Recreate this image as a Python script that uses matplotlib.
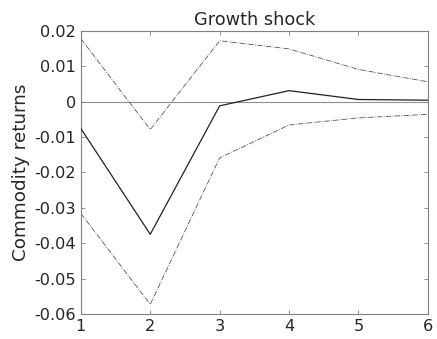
import matplotlib
matplotlib.use('Agg')
import matplotlib.pyplot as plt

# impulse response of commodity returns to a growth shock, with bands
horizon = [1, 2, 3, 4, 5, 6]
irf_mid = [-0.0076, -0.0375, -0.0012, 0.0031, 0.0006, 0.0004]
irf_upper = [0.0178, -0.0079, 0.0172, 0.0149, 0.0091, 0.0056]
irf_lower = [-0.0316, -0.0573, -0.0159, -0.0066, -0.0046, -0.0036]

yticks = [0.02, 0.01, 0, -0.01, -0.02, -0.03, -0.04, -0.05, -0.06]
ytick_labels = ['0.02', '0.01', '0', '-0.01', '-0.02', '-0.03', '-0.04', '-0.05', '-0.06']

fig = plt.figure(figsize=(4.37, 3.39), dpi=100)
ax = fig.add_axes([0.185, 0.074, 0.794, 0.835])

ax.axhline(0, color='#909090', lw=0.8, zorder=1)
ax.plot(horizon, irf_upper, color='#555555', lw=0.6, ls='-.', zorder=2)
ax.plot(horizon, irf_lower, color='#555555', lw=0.6, ls='-.', zorder=2)
ax.plot(horizon, irf_mid, color='#222222', lw=0.9, zorder=3)

ax.set_xlim(1, 6)
ax.set_ylim(-0.06, 0.02)
ax.set_xticks(horizon)
ax.set_yticks(yticks)
ax.set_yticklabels(ytick_labels)
ax.tick_params(direction='in', top=True, right=True, length=3, width=0.6,
               colors='#808080', labelcolor='#262626', labelsize=11.6)
for s in ax.spines.values():
    s.set_color('#808080')
    s.set_linewidth(0.8)

ax.set_title('Growth shock', fontsize=12.8, color='#262626', pad=4)
ax.set_ylabel('Commodity returns', fontsize=13.2, color='#262626', labelpad=3)

fig.savefig('out.png', dpi=100)
